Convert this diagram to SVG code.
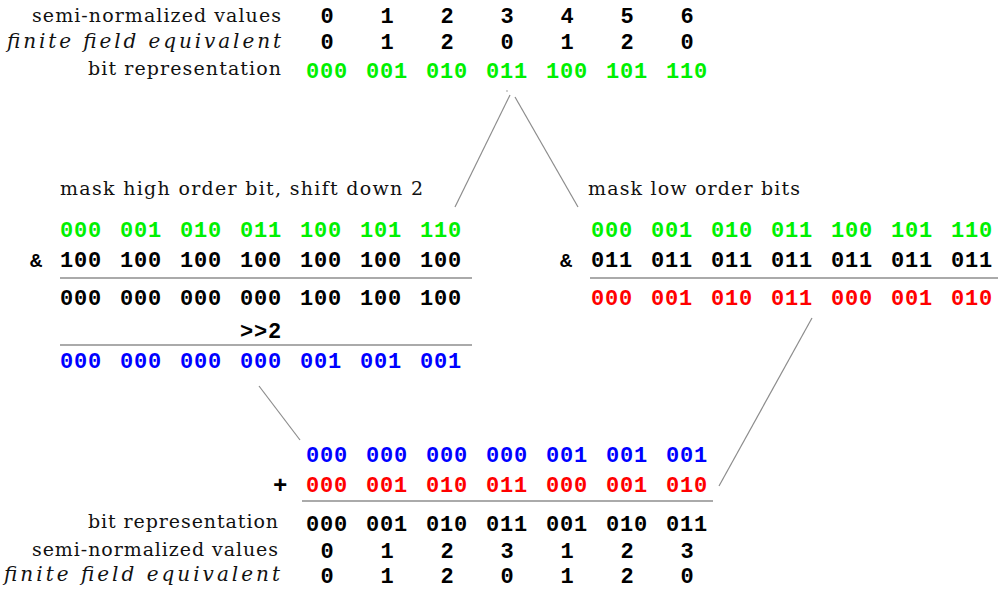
<svg xmlns="http://www.w3.org/2000/svg" width="998" height="590" viewBox="0 0 998 590">
  <style>
    .lbl { font-family: "DejaVu Serif", "Liberation Serif", serif; font-size: 19px; fill: #111; }
    .it { font-style: italic; font-size: 20px; }
    .bits { font-family: "Liberation Mono", "DejaVu Sans Mono", monospace; font-weight: bold; font-size: 22px; letter-spacing: 0.8px; }
    .num { font-family: "Liberation Mono", "DejaVu Sans Mono", monospace; font-weight: bold; font-size: 22px; text-anchor: middle; fill: #000; }
    .op { font-family: "Liberation Mono", "DejaVu Sans Mono", monospace; font-weight: bold; fill: #000; }
    .k { fill: #000; }
    .g { fill: #00f000; }
    .r { fill: #ff0000; }
    .b { fill: #0000ff; }
    .rule { stroke: #aaaaaa; stroke-width: 2; fill: none; }
    .conn { stroke: #8c8c8c; stroke-width: 1.2; fill: none; }
  </style>

  <!-- Source values -->
  <g id="source">
    <text class="lbl" x="32" y="22" textLength="249" lengthAdjust="spacing">semi-normalized values</text>
    <text class="lbl it" x="7" y="48" textLength="274" lengthAdjust="spacing">finite field equivalent</text>
    <text class="lbl" x="88" y="75" textLength="193" lengthAdjust="spacing">bit representation</text>
    <text class="num" y="23"><tspan x="327">0</tspan><tspan x="387">1</tspan><tspan x="447">2</tspan><tspan x="507">3</tspan><tspan x="567">4</tspan><tspan x="627">5</tspan><tspan x="687">6</tspan></text>
    <text class="num" y="49"><tspan x="327">0</tspan><tspan x="387">1</tspan><tspan x="447">2</tspan><tspan x="507">0</tspan><tspan x="567">1</tspan><tspan x="627">2</tspan><tspan x="687">0</tspan></text>
    <text class="bits g" y="78"><tspan x="306">000</tspan><tspan x="366">001</tspan><tspan x="426">010</tspan><tspan x="486">011</tspan><tspan x="546">100</tspan><tspan x="606">101</tspan><tspan x="666">110</tspan></text>
  </g>

  <!-- High bit: mask then shift -->
  <g id="high-bit">
    <text class="lbl" x="60" y="195" textLength="363" lengthAdjust="spacing">mask high order bit, shift down 2</text>
    <text class="bits g" y="237"><tspan x="60">000</tspan><tspan x="120">001</tspan><tspan x="180">010</tspan><tspan x="240">011</tspan><tspan x="300">100</tspan><tspan x="360">101</tspan><tspan x="420">110</tspan></text>
    <text class="op" x="30" y="267" font-size="20">&amp;</text>
    <text class="bits k" y="267"><tspan x="60">100</tspan><tspan x="120">100</tspan><tspan x="180">100</tspan><tspan x="240">100</tspan><tspan x="300">100</tspan><tspan x="360">100</tspan><tspan x="420">100</tspan></text>
    <line class="rule" x1="60" y1="278" x2="472" y2="278"/>
    <text class="bits k" y="305"><tspan x="60">000</tspan><tspan x="120">000</tspan><tspan x="180">000</tspan><tspan x="240">000</tspan><tspan x="300">100</tspan><tspan x="360">100</tspan><tspan x="420">100</tspan></text>
    <text class="bits k" x="240" y="338">&gt;&gt;2</text>
    <line class="rule" x1="60" y1="345" x2="472" y2="345"/>
    <text class="bits b" y="368"><tspan x="60">000</tspan><tspan x="120">000</tspan><tspan x="180">000</tspan><tspan x="240">000</tspan><tspan x="300">001</tspan><tspan x="360">001</tspan><tspan x="420">001</tspan></text>
  </g>

  <!-- Low bits: mask -->
  <g id="low-bits">
    <text class="lbl" x="588" y="195" textLength="212" lengthAdjust="spacing">mask low order bits</text>
    <text class="bits g" y="237"><tspan x="591">000</tspan><tspan x="651">001</tspan><tspan x="711">010</tspan><tspan x="771">011</tspan><tspan x="831">100</tspan><tspan x="891">101</tspan><tspan x="951">110</tspan></text>
    <text class="op" x="560" y="267" font-size="20">&amp;</text>
    <text class="bits k" y="267"><tspan x="591">011</tspan><tspan x="651">011</tspan><tspan x="711">011</tspan><tspan x="771">011</tspan><tspan x="831">011</tspan><tspan x="891">011</tspan><tspan x="951">011</tspan></text>
    <line class="rule" x1="590" y1="278" x2="998" y2="278"/>
    <text class="bits r" y="305"><tspan x="591">000</tspan><tspan x="651">001</tspan><tspan x="711">010</tspan><tspan x="771">011</tspan><tspan x="831">000</tspan><tspan x="891">001</tspan><tspan x="951">010</tspan></text>
  </g>

  <!-- Sum and result -->
  <g id="result">
    <text class="bits b" y="462"><tspan x="306">000</tspan><tspan x="366">000</tspan><tspan x="426">000</tspan><tspan x="486">000</tspan><tspan x="546">001</tspan><tspan x="606">001</tspan><tspan x="666">001</tspan></text>
    <text class="op" x="273" y="493" font-size="24">+</text>
    <text class="bits r" y="492"><tspan x="306">000</tspan><tspan x="366">001</tspan><tspan x="426">010</tspan><tspan x="486">011</tspan><tspan x="546">000</tspan><tspan x="606">001</tspan><tspan x="666">010</tspan></text>
    <line class="rule" x1="302" y1="501" x2="713" y2="501"/>
    <text class="lbl" x="88" y="528" textLength="190" lengthAdjust="spacing">bit representation</text>
    <text class="lbl" x="32" y="556" textLength="246" lengthAdjust="spacing">semi-normalized values</text>
    <text class="lbl it" x="4" y="581" textLength="276" lengthAdjust="spacing">finite field equivalent</text>
    <text class="bits k" y="531"><tspan x="306">000</tspan><tspan x="366">001</tspan><tspan x="426">010</tspan><tspan x="486">011</tspan><tspan x="546">001</tspan><tspan x="606">010</tspan><tspan x="666">011</tspan></text>
    <text class="num" y="558"><tspan x="327">0</tspan><tspan x="387">1</tspan><tspan x="447">2</tspan><tspan x="507">3</tspan><tspan x="567">1</tspan><tspan x="627">2</tspan><tspan x="687">3</tspan></text>
    <text class="num" y="583"><tspan x="327">0</tspan><tspan x="387">1</tspan><tspan x="447">2</tspan><tspan x="507">0</tspan><tspan x="567">1</tspan><tspan x="627">2</tspan><tspan x="687">0</tspan></text>
  </g>

  <!-- Connectors -->
  <g id="connectors">
    <circle cx="507" cy="91" r="0.9" fill="#bbbbbb"/>
    <line class="conn" x1="510" y1="95" x2="455" y2="207"/>
    <line class="conn" x1="515" y1="97" x2="578" y2="207"/>
    <line class="conn" x1="259" y1="386" x2="300" y2="440"/>
    <line class="conn" x1="812" y1="318" x2="719" y2="486"/>
  </g>
</svg>
